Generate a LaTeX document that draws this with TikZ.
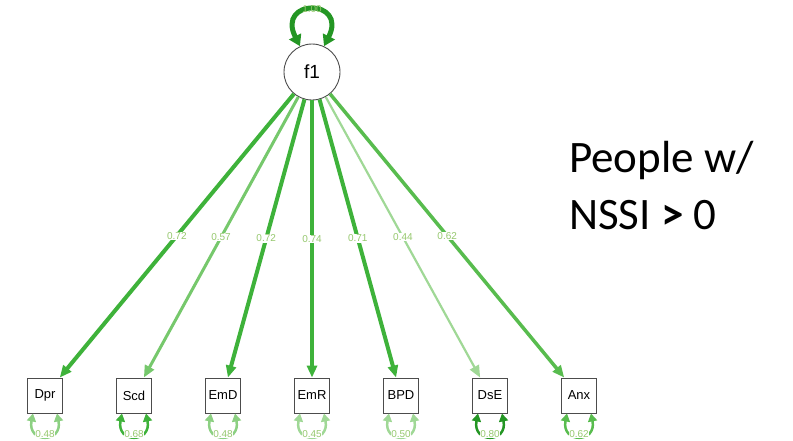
\documentclass[tikz,border=0pt]{standalone}
\usepackage{fontspec}
\setmainfont{Liberation Sans}
\newfontfamily\calib{Carlito}
\usetikzlibrary{arrows.meta}
\definecolor{gA}{RGB}{62,178,58}
\definecolor{gB}{RGB}{88,188,78}
\definecolor{gC}{RGB}{118,200,108}
\definecolor{gD}{RGB}{160,216,150}
\definecolor{gE}{RGB}{36,150,36}
\definecolor{gF}{RGB}{140,208,130}
\definecolor{lbltxt}{RGB}{150,200,110}
\tikzset{
  obs/.style={draw=black!70, line width=0.9pt, fill=white, minimum width=35pt, minimum height=35pt, inner sep=0pt, font=\fontsize{13}{13}\selectfont},
  lat/.style={draw=black!70, line width=0.9pt, fill=white, circle, minimum size=56pt, inner sep=0pt, font=\fontsize{19}{19}\selectfont},
  lam/.style={line width=#1, -{Triangle[length=12pt,width=10pt]}},
  lbl/.style={fill=white, inner sep=0.5pt, text=lbltxt, font=\fontsize{10}{10}\selectfont},
  res/.style={line width=2.5pt, {Triangle[length=8pt,width=9pt]}-{Triangle[length=8pt,width=9pt]}},
}
\begin{document}
\begin{tikzpicture}[x=1pt,y=-1pt]
\useasboundingbox (0,0) rectangle (793,440);
\node[lat] (f1) at (312,72) {f1};
\node[obs] (Dpr) at (45,395.5) {Dpr};
\node[obs] (Scd) at (134,395.5) {Scd};
\node[obs] (EmD) at (223,395.5) {EmD};
\node[obs] (EmR) at (312,395.5) {EmR};
\node[obs] (BPD) at (401,395.5) {BPD};
\node[obs] (DsE) at (490,395.5) {DsE};
\node[obs] (Anx) at (579,395.5) {Anx};
% loadings
\draw[lam=4pt, gA] (f1) -- node[lbl]{0.72} (Dpr);
\draw[lam=3pt, gC] (f1) -- node[lbl]{0.57} (Scd);
\draw[lam=4pt, gA] (f1) -- node[lbl]{0.72} (EmD);
\draw[lam=4pt, gA] (f1) -- node[lbl]{0.74} (EmR);
\draw[lam=4pt, gA] (f1) -- node[lbl]{0.71} (BPD);
\draw[lam=2.2pt, gD] (f1) -- node[lbl]{0.44} (DsE);
\draw[lam=3.5pt, gB] (f1) -- node[lbl]{0.62} (Anx);
% latent variance
\draw[line width=5pt, gE, {Triangle[length=11pt,width=13pt]}-{Triangle[length=11pt,width=13pt]}]
  (f1.115) .. controls ([xshift=-24pt,yshift=48pt]f1.115) and ([xshift=24pt,yshift=48pt]f1.65) .. (f1.65)
  node[pos=0.5, text=lbltxt, font=\fontsize{10}{10}\selectfont, inner sep=0pt, yshift=1pt] {1.00};
% residuals
\foreach \n/\v/\c in {Dpr/0.48/gF, Scd/0.68/gA, EmD/0.48/gF, EmR/0.45/gD, BPD/0.50/gD, DsE/0.80/gE, Anx/0.62/gB}{
  \draw[res, \c] ([xshift=-12pt]\n.south) .. controls ([xshift=-18pt,yshift=-30pt]\n.south) and ([xshift=18pt,yshift=-30pt]\n.south) .. ([xshift=12pt]\n.south)
    node[pos=0.5, lbl, yshift=2pt] {\v};
}
\node[anchor=base west, font=\calib\fontsize{45}{57}\selectfont, align=left, inner sep=0pt] (txt) at (569,229) {People w/\\NSSI \textbf{>} 0};
\end{tikzpicture}
\end{document}
